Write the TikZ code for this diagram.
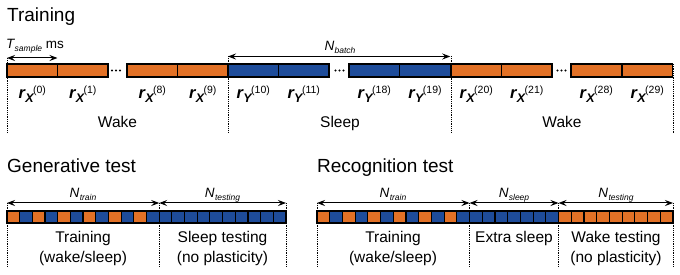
\documentclass[tikz,border=0pt]{standalone}
\usepackage{fontspec}
\setmainfont{Liberation Sans}
\usetikzlibrary{arrows.meta}
\definecolor{worange}{RGB}{226,113,38}
\definecolor{sblue}{RGB}{30,76,154}
\newcommand{\rlab}[2]{{\fontsize{16.5}{16}\selectfont\bfseries\itshape r}\kern0.3pt\raisebox{-3.5pt}{\fontsize{12.5}{12}\selectfont\bfseries\itshape #1}\kern-0.5pt\raisebox{5.5pt}{\fontsize{10.5}{10.5}\selectfont(#2)}}
\newcommand{\nlab}[1]{{\itshape N}\kern0.3pt\raisebox{-2.5pt}{\fontsize{8.5}{8.5}\selectfont\itshape #1}}
\tikzset{
  ob/.style={draw=black, line width=1.2pt, fill=worange, inner sep=0, outer sep=0, anchor=north west},
  bb/.style={draw=black, line width=1.2pt, fill=sblue, inner sep=0, outer sep=0, anchor=north west},
  dim/.style={{Stealth[length=8pt,width=6pt,inset=3pt]}-{Stealth[length=8pt,width=6pt,inset=3pt]}, line width=1pt},
  vdot/.style={densely dotted, line width=0.8pt},
  ttl/.style={font=\fontsize{19}{21}\selectfont, anchor=base west, inner sep=0},
  lab/.style={font=\fontsize{15.5}{17}\selectfont, anchor=base, inner sep=0},
  dimlab/.style={font=\fontsize{13.5}{15}\selectfont, anchor=base, inner sep=0},
  rl/.style={anchor=base, inner sep=0},
  dotc/.style={fill=black, circle, inner sep=0, minimum size=2.2pt},
}
\begin{document}
\begin{tikzpicture}[x=1pt,y=-1pt]
\useasboundingbox (0,0) rectangle (680,275);

% ---------------- Training ----------------
\node[ttl] (ttrain) at (7,22) {Training};

% dotted verticals (drawn first, bars on top)
\coordinate (v0t) at (7,58);   \coordinate (v0b) at (7,133);
\coordinate (v1t) at (228,56); \coordinate (v1b) at (228,133);
\coordinate (v2t) at (451,56); \coordinate (v2b) at (451,133);
\coordinate (v3t) at (673,64); \coordinate (v3b) at (673,133);
\draw[vdot] (v0t) -- (v0b);
\draw[vdot] (v1t) -- (v1b);
\draw[vdot] (v2t) -- (v2b);
\draw[vdot] (v3t) -- (v3b);

\foreach \x/\s/\n in {7/ob/a0, 57.5/ob/a1, 127/ob/a2, 177.5/ob/a3,
                      228/bb/b0, 278.5/bb/b1, 349/bb/b2, 399.75/bb/b3,
                      451/ob/c0, 501.5/ob/c1, 571/ob/c2, 622/ob/c3}
  \node[\s, minimum width=50.5pt, minimum height=13pt] (\n) at (\x,64) {};

% ellipsis dots
\foreach \x/\n in {112/d1, 116/d2, 120/d3, 335.5/d4, 339.5/d5, 343.5/d6, 557.5/d7, 561.5/d8, 565.5/d9}
  \node[dotc] (\n) at (\x,70.5) {};

% dimension arrows
\draw[dim] ([yshift=6pt]a0.north west) -- ([yshift=6pt]a0.north east);
\draw[dim] ([yshift=7.5pt]b0.north west) -- ([yshift=7.5pt]b3.north east);
\node[anchor=base west, inner sep=0, font=\fontsize{13.5}{15}\selectfont] (tsample) at (6,49)
  {{\itshape T}\kern0.3pt\raisebox{-2.5pt}{\fontsize{8.5}{8.5}\selectfont\itshape sample} ms};
\node[dimlab] (nbatch) at (340,51) {\nlab{batch}};

% r labels
\foreach \n/\sub/\k in {a0/X/0, a1/X/1, a2/X/8, a3/X/9,
                        b0/Y/10, b1/Y/11, b2/Y/18, b3/Y/19,
                        c0/X/20, c1/X/21, c2/X/28, c3/X/29}
  \node[rl] (l\n) at ([yshift=-22pt]\n.south) {\rlab{\sub}{\k}};

\node[lab] (wake1) at (117.5,127.5) {Wake};
\node[lab] (sleep1) at (340,127.5) {Sleep};
\node[lab] (wake2) at (562,127.5) {Wake};

% ---------------- Generative test ----------------
\node[ttl] (tgen) at (7,173) {Generative test};

\coordinate (g0t) at (7,203);   \coordinate (g0b) at (7,267);
\coordinate (g1t) at (159.2,203); \coordinate (g1b) at (159.2,267);
\coordinate (g2t) at (286,203); \coordinate (g2b) at (286,267);
\draw[vdot] (g0t) -- (g0b);
\draw[vdot] (g1t) -- (g1b);
\draw[vdot] (g2t) -- (g2b);

\foreach \i in {0,...,21}{
  \pgfmathsetmacro{\xx}{7+\i*12.68}
  \ifnum\i<12
    \ifodd\i \def\sty{bb}\else\def\sty{ob}\fi
  \else \def\sty{bb}\fi
  \node[\sty, minimum width=12.68pt, minimum height=12pt] (gs\i) at (\xx,211) {};
}
\draw[dim] (g0t) -- (g1t);
\draw[dim] (g1t) -- (g2t);
\node[dimlab] (gntrain) at (83,198) {\nlab{train}};
\node[dimlab] (gntest) at (222.5,198) {\nlab{testing}};

\node[lab] (gtr1) at (83,243) {Training};
\node[lab] (gtr2) at (83,262) {(wake/sleep)};
\node[lab] (gst1) at (222.5,243) {Sleep testing};
\node[lab] (gst2) at (222.5,262) {(no plasticity)};

% ---------------- Recognition test ----------------
\node[ttl] (trec) at (317,173) {Recognition test};

\coordinate (r0t) at (317,203);   \coordinate (r0b) at (317,267);
\coordinate (r1t) at (469.5,203); \coordinate (r1b) at (469.5,267);
\coordinate (r2t) at (558.5,203); \coordinate (r2b) at (558.5,267);
\coordinate (r3t) at (673,203);   \coordinate (r3b) at (673,267);
\draw[vdot] (r0t) -- (r0b);
\draw[vdot] (r1t) -- (r1b);
\draw[vdot] (r2t) -- (r2b);
\draw[vdot] (r3t) -- (r3b);

\foreach \i in {0,...,27}{
  \pgfmathsetmacro{\xx}{317+\i*12.714}
  \ifnum\i<12
    \ifodd\i \def\sty{bb}\else\def\sty{ob}\fi
  \else
    \ifnum\i<19 \def\sty{bb}\else\def\sty{ob}\fi
  \fi
  \node[\sty, minimum width=12.714pt, minimum height=12pt] (rs\i) at (\xx,211) {};
}
\draw[dim] (r0t) -- (r1t);
\draw[dim] (r1t) -- (r2t);
\draw[dim] (r2t) -- (r3t);
\node[dimlab] (rntrain) at (393,198) {\nlab{train}};
\node[dimlab] (rnsleep) at (514,198) {\nlab{sleep}};
\node[dimlab] (rntest) at (616,198) {\nlab{testing}};

\node[lab] (rtr1) at (393,243) {Training};
\node[lab] (rtr2) at (393,262) {(wake/sleep)};
\node[lab] (res1) at (514,243) {Extra sleep};
\node[lab] (rwt1) at (616,243) {Wake testing};
\node[lab] (rwt2) at (616,262) {(no plasticity)};
\end{tikzpicture}
\end{document}
